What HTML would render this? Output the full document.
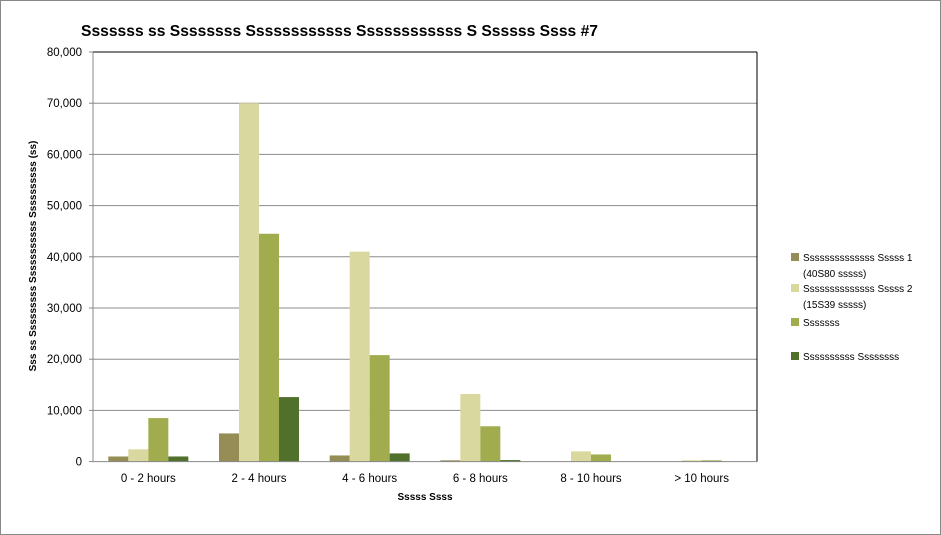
<!DOCTYPE html>
<html><head><meta charset="utf-8"><style>
body{margin:0;background:#fff}
svg{display:block;font-family:"Liberation Sans",sans-serif}
</style></head><body>
<svg id="c" width="941" height="535">
<rect x="0.5" y="0.5" width="940" height="534" fill="#fff" stroke="#888"/>
<text x="81" y="36" font-size="16" font-weight="bold" fill="#000" textLength="517" lengthAdjust="spacingAndGlyphs">Sssssss ss Ssssssss Ssssssssssss Ssssssssssss S Ssssss Ssss #7</text>
<g id="grid"></g><g id="bars"></g><g id="axes"></g>
<text transform="translate(36,256) rotate(-90)" text-anchor="middle" font-size="10" font-weight="bold">Sss ss Sssssssss Sssssssssss Ssssssssss (ss)</text>
<text x="425" y="500" text-anchor="middle" font-size="10" font-weight="bold">Sssss Ssss</text>
<g id="legend"></g>
</svg>
<script>
const categories=["0 - 2 hours","2 - 4 hours","4 - 6 hours","6 - 8 hours","8 - 10 hours","> 10 hours"];
const s1=[1000,5500,1200,250,0,0];
const s2=[2400,70000,41000,13200,2000,250];
const s3=[8500,44500,20800,6900,1400,250];
const s4=[1000,12600,1600,300,0,0];
const seriesNames=["Ssssssssssssss Sssss 1","Ssssssssssssss Sssss 2","Sssssss","Ssssssssss Ssssssss"];
const yTicks=[0,10000,20000,30000,40000,50000,60000,70000,80000];
const colors=["#968c55","#d9d89e","#a1ac4f","#50702c"];
const L=93,R=757,T=52,B=461.6,ymax=80000;
const y=v=>B-(v/ymax)*(B-T);
const band=(R-L)/categories.length;
const ns="http://www.w3.org/2000/svg";
function mk(p,tag,a){const e=document.createElementNS(ns,tag);for(const k in a)e.setAttribute(k,a[k]);document.getElementById(p).appendChild(e);return e;}
yTicks.forEach(t=>{
  if(t>0&&t<ymax){const g=mk('grid','line',{x1:L,x2:R,y1:y(t),y2:y(t),stroke:'#8c8c8c'});
  
  }
  const tk=mk('axes','line',{x1:L-4,x2:L,y1:y(t),y2:y(t),stroke:'#888'});
  
  
  const tx=mk('axes','text',{x:82,y:y(t)+4,'text-anchor':'end','font-size':'11.5'});
  tx.textContent=t.toLocaleString('en-US');
  
  
});
const series=[s1,s2,s3,s4];
const bw=20;
categories.forEach((c,i)=>{
  const x0=L+band*i+band/2-2*bw;
  series.forEach((s,j)=>{
    const r=mk('bars','rect',{x:x0+j*bw,y:y(s[i]),width:bw,height:B-y(s[i]),fill:colors[j]});
    
    
  });
  const tx=mk('axes','text',{x:L+band*i+band/2,y:482,'text-anchor':'middle','font-size':'11.5'});
  tx.textContent=c;
  
  
});
let a;
a=mk('axes','line',{x1:L,x2:R,y1:T,y2:T,stroke:'#000'});
a=mk('axes','line',{x1:R,x2:R,y1:T,y2:B,stroke:'#000'});
a=mk('axes','line',{x1:L,x2:L,y1:T,y2:B,stroke:'#888'});
a=mk('axes','line',{x1:L,x2:R,y1:B,y2:B,stroke:'#888'});
const legY=[261,292,326,360];
const legLines=[[seriesNames[0],"(40S80 sssss)"],[seriesNames[1],"(15S39 sssss)"],[seriesNames[2]],[seriesNames[3]]];
legLines.forEach((ls,j)=>{
  const sq=mk('legend','rect',{x:791,y:legY[j]-8,width:8,height:8,fill:colors[j]});
  
  
  ls.forEach((t,k)=>{
    const tx=mk('legend','text',{x:803,y:legY[j]+k*16,'font-size':'10'});
    tx.textContent=t;
    
    
  });
});
</script>
</body></html>
